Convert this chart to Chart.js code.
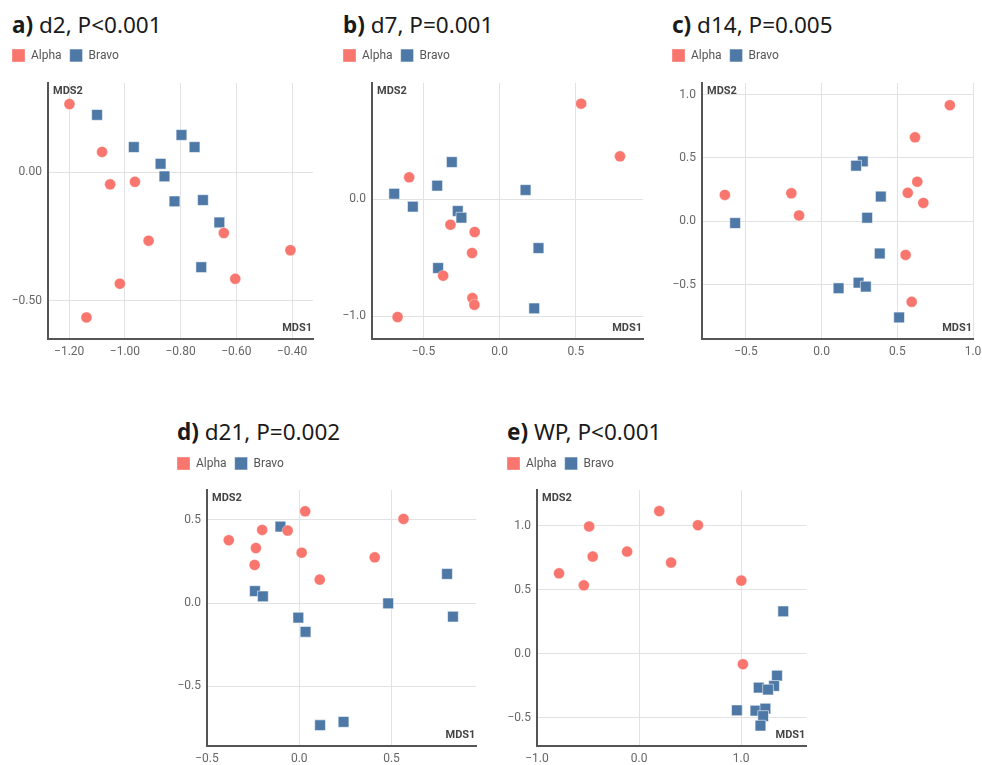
<!DOCTYPE html>
<html>
<head>
<meta charset="utf-8">
<script src="https://cdn.jsdelivr.net/npm/chart.js@4"></script>
<style>
  html, body { margin: 0; padding: 0; background: #fff; }
  body { width: 982px; height: 765px; position: relative; overflow: hidden; }
  canvas { position: absolute; }
  .ttl { position: absolute; font-family: "Noto Sans", sans-serif; font-size: 22.5px; line-height: 22px; color: #1a1a1a; white-space: nowrap; }
  .ttl b { font-weight: 700; }
</style>
</head>
<body>
<script>
// ---------------- DATA ----------------
const seriesNames = ['Alpha', 'Bravo'];
const panelLetters = ['a)', 'b)', 'c)', 'd)', 'e)'];
const panelTitles = ['d2, P<0.001', 'd7, P=0.001', 'd14, P=0.005', 'd21, P=0.002', 'WP, P<0.001'];
const xAxisTitle = 'MDS1';
const yAxisTitle = 'MDS2';

// d2
const d2Alpha = [[-1.199,0.264],[-1.082,0.078],[-1.053,-0.048],[-0.964,-0.038],[-0.915,-0.267],[-1.018,-0.434],[-1.138,-0.565],[-0.645,-0.237],[-0.604,-0.415],[-0.406,-0.304]];
const d2Bravo = [[-1.100,0.222],[-0.968,0.097],[-0.797,0.144],[-0.750,0.097],[-0.872,0.032],[-0.858,-0.017],[-0.822,-0.114],[-0.720,-0.109],[-0.661,-0.196],[-0.726,-0.370]];
const d2XTicks = [-1.2, -1.0, -0.8, -0.6, -0.4];
const d2YTicks = [-0.5, 0.0];
// d7
const d7Alpha = [[0.535,0.813],[0.790,0.364],[-0.594,0.185],[-0.323,-0.219],[-0.164,-0.281],[-0.181,-0.460],[-0.371,-0.653],[-0.179,-0.844],[-0.166,-0.901],[-0.670,-1.006]];
const d7Bravo = [[-0.314,0.315],[-0.410,0.114],[-0.692,0.045],[0.170,0.077],[-0.570,-0.065],[-0.275,-0.102],[-0.251,-0.159],[0.255,-0.418],[-0.404,-0.588],[0.227,-0.932]];
const d7XTicks = [-0.5, 0.0, 0.5];
const d7YTicks = [-1.0, 0.0];
// d14
const d14Alpha = [[0.847,0.916],[0.617,0.663],[0.632,0.313],[0.569,0.225],[0.672,0.146],[-0.639,0.209],[-0.200,0.222],[-0.149,0.047],[0.555,-0.264],[0.595,-0.634]];
const d14Bravo = [[0.272,0.473],[0.228,0.439],[0.391,0.196],[0.301,0.029],[-0.571,-0.013],[0.384,-0.253],[0.244,-0.483],[0.292,-0.514],[0.112,-0.527],[0.512,-0.757]];
const d14XTicks = [-0.5, 0.0, 0.5, 1.0];
const d14YTicks = [-0.5, 0.0, 0.5, 1.0];
// d21
const d21Alpha = [[0.032,0.552],[0.565,0.506],[-0.382,0.378],[-0.201,0.440],[-0.063,0.436],[-0.235,0.331],[0.013,0.303],[-0.242,0.229],[0.409,0.275],[0.111,0.141]];
const d21Bravo = [[-0.102,0.460],[-0.240,0.072],[-0.197,0.040],[0.801,0.175],[0.482,-0.002],[0.833,-0.082],[-0.005,-0.088],[0.034,-0.173],[0.113,-0.735],[0.240,-0.715]];
const d21XTicks = [-0.5, 0.0, 0.5];
const d21YTicks = [-0.5, 0.0, 0.5];
// WP
const wpAlpha = [[0.198,1.115],[0.577,1.005],[-0.489,0.995],[-0.117,0.799],[-0.454,0.760],[0.314,0.713],[-0.784,0.629],[-0.541,0.535],[1.002,0.572],[1.018,-0.081]];
const wpBravo = [[1.413,0.332],[1.352,-0.170],[1.323,-0.251],[1.173,-0.264],[1.264,-0.279],[0.959,-0.441],[1.141,-0.444],[1.238,-0.428],[1.216,-0.486],[1.190,-0.561]];
const wpXTicks = [-1.0, 0.0, 1.0];
const wpYTicks = [-0.5, 0.0, 0.5, 1.0];

// ---------------- LAYOUT / STYLE ----------------
const ALPHA_COLOR = '#F8766D';
const BRAVO_COLOR = '#4E79A7';

const panels = [
  { alpha: d2Alpha, bravo: d2Bravo, xt: d2XTicks, yt: d2YTicks, dec: 2, xr: [-1.276, -0.325], yr: [-0.649, 0.346],
    box: {cl: 0, ct: 40, cw: 322, ch: 332, bx: 12, by: 49, L: 48, T: 83, R: 313, B: 339}, tx: 12, tb: 33 },
  { alpha: d7Alpha, bravo: d7Bravo, xt: d7XTicks, yt: d7YTicks, dec: 1, xr: [-0.838, 0.941], yr: [-1.193, 0.989],
    box: {cl: 330, ct: 40, cw: 322, ch: 332, bx: 343, by: 49, L: 372, T: 83, R: 643, B: 339}, tx: 343, tb: 33 },
  { alpha: d14Alpha, bravo: d14Bravo, xt: d14XTicks, yt: d14YTicks, dec: 1, xr: [-0.79, 1.0], yr: [-0.927, 1.091],
    box: {cl: 655, ct: 40, cw: 327, ch: 332, bx: 672, by: 49, L: 702, T: 83, R: 973, B: 339}, tx: 672, tb: 33 },
  { alpha: d21Alpha, bravo: d21Bravo, xt: d21XTicks, yt: d21YTicks, dec: 1, xr: [-0.5, 0.96], yr: [-0.86, 0.68],
    box: {cl: 160, ct: 447, cw: 325, ch: 318, bx: 177, by: 457, L: 207, T: 490, R: 478, B: 746}, tx: 177, tb: 440 },
  { alpha: wpAlpha, bravo: wpBravo, xt: wpXTicks, yt: wpYTicks, dec: 1, xr: [-1.0, 1.64], yr: [-0.72, 1.28],
    box: {cl: 490, ct: 447, cw: 325, ch: 318, bx: 507, by: 457, L: 537, T: 490, R: 808, B: 746}, tx: 507, tb: 440 }
];

function fmt(v, dec) {
  const s = Math.abs(v).toFixed(dec);
  return (v < -1e-9 ? '\u2212' : '') + s;
}

const innerTitles = {
  id: 'innerTitles',
  beforeDatasetsDraw(chart, args, opts) {
    const {ctx, chartArea: a} = chart;
    ctx.save();
    ctx.font = 'bold 11px Roboto';
    ctx.fillStyle = '#444';
    ctx.textAlign = 'left';
    ctx.textBaseline = 'top';
    ctx.fillText(opts.y, a.left + 5, a.top + 3);
    ctx.textAlign = 'right';
    ctx.textBaseline = 'bottom';
    ctx.fillText(opts.x, a.right - 1, a.bottom - 5);
    ctx.restore();
  }
};

function toPts(arr) { return arr.map(p => ({x: p[0], y: p[1]})); }

panels.forEach((p, i) => {
  const b = p.box;
  const padLeft = b.bx - 8 - b.cl;
  const padTop = b.by - 8 - b.ct;
  const padRight = b.cl + b.cw - b.R;
  const legendExtra = b.T - b.by - 23;
  const yWidth = b.L - b.bx + 8;
  const xHeight = b.ct + b.ch - b.B;

  // title (real HTML text)
  const t = document.createElement('div');
  t.className = 'ttl';
  t.style.left = p.tx + 'px';
  t.style.top = (p.tb - 19) + 'px';
  const bl = document.createElement('b');
  bl.textContent = panelLetters[i];
  t.appendChild(bl);
  t.appendChild(document.createTextNode(' ' + panelTitles[i]));
  document.body.appendChild(t);

  const cv = document.createElement('canvas');
  cv.width = b.cw; cv.height = b.ch;
  cv.style.left = b.cl + 'px'; cv.style.top = b.ct + 'px';
  cv.style.width = b.cw + 'px'; cv.style.height = b.ch + 'px';
  document.body.appendChild(cv);

  const legendGap = {
    id: 'legendGap' + i,
    afterInit(chart) {
      const lg = chart.legend;
      if (!lg) return;
      const fit = lg.fit;
      lg.fit = function () { fit.call(this); this.height += legendExtra; };
    }
  };

  const mkScale = (range, ticks, isX, extent) => ({
    type: 'linear',
    position: isX ? 'bottom' : 'left',
    min: range[0], max: range[1],
    afterBuildTicks: s => { s.ticks = ticks.map(v => ({value: v})); },
    afterFit: s => {
      if (isX) s.height = extent; else s.width = extent;
      s.paddingLeft = 0; s.paddingRight = 0; s.paddingTop = 0; s.paddingBottom = 0;
    },
    grid: { color: '#e2e2e2', lineWidth: 1, drawTicks: false },
    border: { display: true, color: '#555', width: 2 },
    ticks: {
      padding: 6,
      color: '#666',
      font: { family: 'Roboto', size: 12 },
      callback: v => fmt(v, p.dec),
      maxRotation: 0,
      autoSkip: false
    }
  });

  new Chart(cv.getContext('2d'), {
    type: 'scatter',
    data: {
      datasets: [
        { label: seriesNames[0], data: toPts(p.alpha), pointStyle: 'circle', pointRadius: 5.5,
          backgroundColor: ALPHA_COLOR, borderColor: 'rgba(255,255,255,0.35)', borderWidth: 1 },
        { label: seriesNames[1], data: toPts(p.bravo), pointStyle: 'rect', pointRadius: 7.6,
          backgroundColor: BRAVO_COLOR, borderColor: 'rgba(255,255,255,0.55)', borderWidth: 1 }
      ]
    },
    options: {
      responsive: false,
      animation: false,
      devicePixelRatio: 1,
      layout: { padding: { left: padLeft, top: padTop, right: padRight, bottom: 0 } },
      plugins: {
        legend: {
          display: true, position: 'top', align: 'start',
          labels: { boxWidth: 13, boxHeight: 13, padding: 8, color: '#555',
                    font: { family: 'Roboto', size: 12 } }
        },
        tooltip: { enabled: false },
        innerTitles: { x: xAxisTitle, y: yAxisTitle }
      },
      scales: {
        x: mkScale(p.xr, p.xt, true, xHeight),
        y: mkScale(p.yr, p.yt, false, yWidth)
      }
    },
    plugins: [innerTitles, legendGap]
  });
});
</script>
</body>
</html>
